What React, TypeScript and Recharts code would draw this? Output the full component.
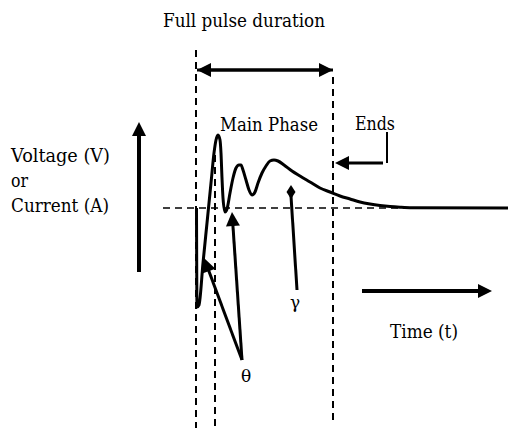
import { ComposedChart, Line, XAxis, YAxis, ReferenceLine, ReferenceDot } from 'recharts'

// waveform: time vs signal level (baseline = 0)
const waveT = [163, 196.5, 197, 199, 203, 207, 211, 214, 216, 218, 220, 221, 222, 223, 225, 227, 230, 233, 236, 239, 241, 243, 246, 249, 252, 255, 258, 262, 266, 270, 274, 278, 284, 292, 300, 310, 320, 330, 340, 350, 360, 370, 380, 390, 400, 412, 508]
const waveV = [NaN, 0, -99, -97, -55, -15, 25, 55, 68, 73, 68, 55, 30, 10, -4, -1, 15, 30, 40, 43, 43, 38, 28, 18, 13, 16, 25, 35, 42, 47, 48, 47, 43, 37, 32, 26, 20, 16, 12, 9, 6, 4, 2.5, 1.4, 0.7, 0.2, 0]

// dashed guides: [t, from, to]
const vGuides = [
  [196, 158, -220],
  [215, 65, -220],
  [333, 131, -214],
]
const baselineFrom = 163
const baselineTo = 450

// arrows: [t1, v1, t2, v2] (head at second point)
const arrows = [
  [197, 138, 333, 138],
  [333, 138, 197, 138],
  [139, -64, 139, 86],
  [362, -83, 492, -83],
  [383, 45, 335, 45],
  [242, -152, 204, -50],
  [242, -152, 232, -4],
]
const plainLines = [
  [297, -82, 291, 12],
  [387, 76, 387, 45],
]

// text labels: position, text, rendered width (0 = natural)
const labels = [
  { t: 163, v: 181, text: 'Full pulse duration', w: 162 },
  { t: 220, v: 77, text: 'Main Phase', w: 98 },
  { t: 355, v: 78, text: 'Ends', w: 40 },
  { t: 11, v: 46, text: 'Voltage (V)', w: 99 },
  { t: 11, v: 21, text: 'or', w: 17 },
  { t: 11, v: -4, text: 'Current (A)', w: 98 },
  { t: 390, v: -130, text: 'Time (t)', w: 68 },
  { t: 246, v: -174, text: 'θ', w: 0 },
  { t: 295, v: -100, text: 'γ', w: 0 },
]

const data = waveT.map((t, i) => ({ t, v: Number.isNaN(waveV[i]) ? null : waveV[i] }))

const font = 'DejaVu Serif, serif'

function Arrow(props: any) {
  const { x1, y1, x2, y2 } = props
  const dx = x2 - x1
  const dy = y2 - y1
  const len = Math.sqrt(dx * dx + dy * dy)
  const ux = dx / len
  const uy = dy / len
  const hl = 14
  const hw = 7
  const bx = x2 - ux * hl
  const by = y2 - uy * hl
  const pts = `${x2},${y2} ${bx - uy * hw},${by + ux * hw} ${bx + uy * hw},${by - ux * hw}`
  return (
    <g>
      <line x1={x1} y1={y1} x2={bx + ux * 2} y2={by + uy * 2} stroke="#000" strokeWidth={props.strokeWidth ?? 3} />
      <polygon points={pts} fill="#000" />
    </g>
  )
}

function Label(text: string, w: number) {
  return (p: any) =>
    w > 0 ? (
      <text
        x={p.cx}
        y={p.cy}
        fontFamily={font}
        fontSize={18.5}
        fill="#000"
        textLength={w}
        lengthAdjust="spacingAndGlyphs"
      >
        {text}
      </text>
    ) : (
      <text x={p.cx} y={p.cy} fontFamily={font} fontSize={17} fill="#000" textAnchor="middle">
        {text}
      </text>
    )
}

function Diamond(p: any) {
  const { cx, cy } = p
  return <polygon points={`${cx},${cy - 7} ${cx + 4.5},${cy} ${cx},${cy + 7} ${cx - 4.5},${cy}`} fill="#000" />
}

export default function App() {
  return (
    <div style={{ position: 'absolute', left: 0, top: 0, background: '#fff' }}>
      <ComposedChart width={508} height={428} data={data} margin={{ top: 0, right: 0, bottom: 0, left: 0 }}>
        <XAxis dataKey="t" type="number" domain={[0, 508]} hide />
        <YAxis type="number" domain={[-220, 208]} hide />
        {vGuides.map(([t, a, b], i) => (
          <ReferenceLine
            key={'vg' + i}
            segment={[{ x: t, y: a }, { x: t, y: b }]}
            stroke="#000"
            strokeWidth={2}
            strokeDasharray="7 5"
          />
        ))}
        <ReferenceLine
          segment={[{ x: baselineFrom, y: 0 }, { x: baselineTo, y: 0 }]}
          stroke="#000"
          strokeWidth={1.6}
          strokeDasharray="7 5"
        />
        <Line
          dataKey="v"
          type="monotone"
          stroke="#000"
          strokeWidth={3}
          dot={false}
          connectNulls={false}
          isAnimationActive={false}
        />
        {arrows.map(([a, b, c, d], i) => (
          <ReferenceLine
            key={'ar' + i}
            segment={[{ x: a, y: b }, { x: c, y: d }]}
            stroke="#000"
            strokeWidth={i === 2 || i === 3 ? 4 : 3}
            shape={Arrow}
          />
        ))}
        {plainLines.map(([a, b, c, d], i) => (
          <ReferenceLine
            key={'pl' + i}
            segment={[{ x: a, y: b }, { x: c, y: d }]}
            stroke="#000"
            strokeWidth={i === 0 ? 3 : 2}
          />
        ))}
        <ReferenceDot x={291} y={16} r={5} shape={Diamond} />
        {labels.map((l, i) => (
          <ReferenceDot key={'lb' + i} x={l.t} y={l.v} r={1} shape={Label(l.text, l.w)} />
        ))}
      </ComposedChart>
    </div>
  )
}
